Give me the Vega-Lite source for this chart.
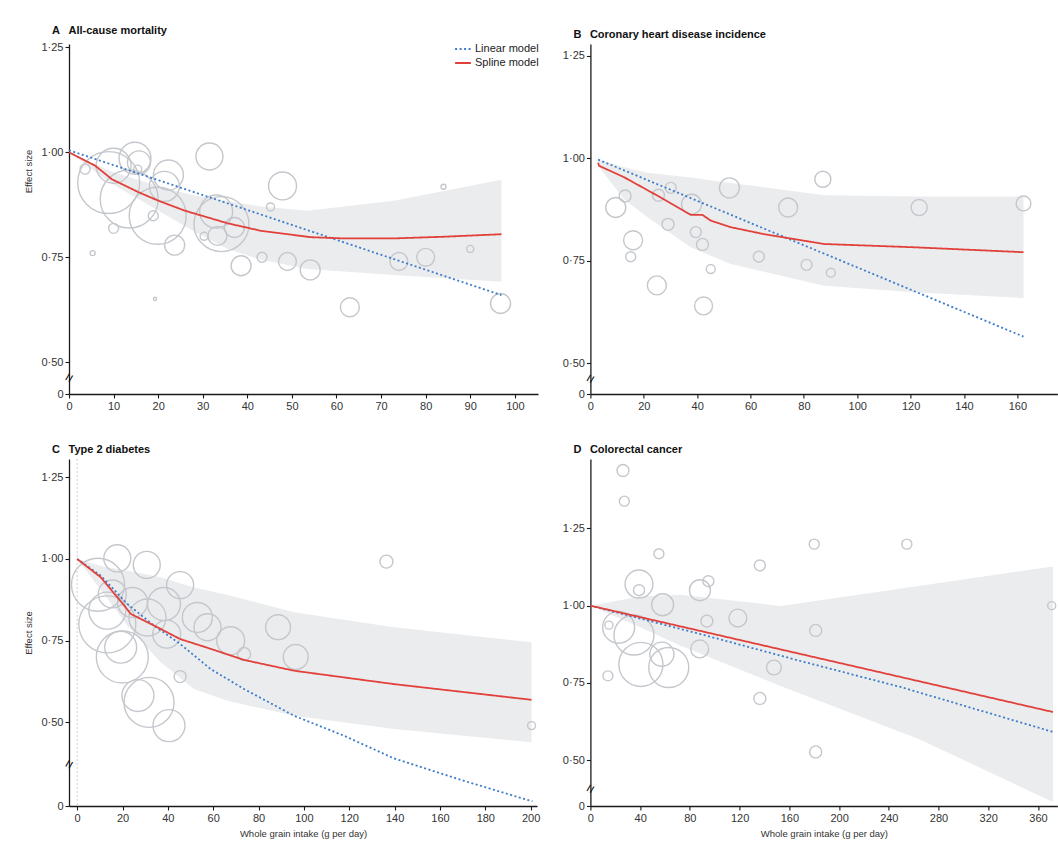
{
  "$schema": "https://vega.github.io/schema/vega-lite/v6.json",
  "background": "white",
  "padding": {"left": 23, "top": 25, "right": 0, "bottom": 5},
  "columns": 2,
  "spacing": {"row": 65, "column": 52.4},
  "bounds": "flush",
  "resolve": {
    "scale": {"color": "independent", "strokeDash": "independent"},
    "legend": {"color": "independent", "strokeDash": "independent"}
  },
  "datasets": {
    "bandA": [
      {"x": 0, "y": 1.0, "y2": 1.0},
      {"x": 9.6, "y": 0.954, "y2": 0.925},
      {"x": 20.8, "y": 0.917, "y2": 0.857},
      {"x": 28.2, "y": 0.897, "y2": 0.81},
      {"x": 35.6, "y": 0.884, "y2": 0.77},
      {"x": 43.1, "y": 0.871, "y2": 0.744},
      {"x": 53.5, "y": 0.861, "y2": 0.722},
      {"x": 72.8, "y": 0.885, "y2": 0.708},
      {"x": 97, "y": 0.935, "y2": 0.692}
    ],
    "pA": [
      {"x": 3.6, "y": 0.96, "w": 10}, {"x": 8.9, "y": 0.928, "w": 384}, {"x": 10, "y": 0.968, "w": 122},
      {"x": 14.8, "y": 0.986, "w": 102}, {"x": 15.7, "y": 0.976, "w": 53}, {"x": 15.4, "y": 0.96, "w": 6.4},
      {"x": 13.5, "y": 0.889, "w": 336}, {"x": 19.9, "y": 0.849, "w": 325}, {"x": 22.3, "y": 0.946, "w": 90},
      {"x": 21.4, "y": 0.919, "w": 90}, {"x": 18.9, "y": 0.849, "w": 10}, {"x": 10, "y": 0.819, "w": 10},
      {"x": 5.3, "y": 0.76, "w": 2.5}, {"x": 23.7, "y": 0.779, "w": 40}, {"x": 19.3, "y": 0.651, "w": 1},
      {"x": 34.2, "y": 0.829, "w": 302}, {"x": 33, "y": 0.859, "w": 109}, {"x": 37.1, "y": 0.821, "w": 40},
      {"x": 33.3, "y": 0.801, "w": 36}, {"x": 30.3, "y": 0.8, "w": 6.4}, {"x": 31.5, "y": 0.99, "w": 73},
      {"x": 47.9, "y": 0.92, "w": 78}, {"x": 45.2, "y": 0.87, "w": 6.4}, {"x": 38.6, "y": 0.73, "w": 40},
      {"x": 43.3, "y": 0.75, "w": 10}, {"x": 49, "y": 0.74, "w": 32}, {"x": 54.1, "y": 0.72, "w": 40},
      {"x": 63, "y": 0.631, "w": 36}, {"x": 74, "y": 0.74, "w": 32}, {"x": 80, "y": 0.75, "w": 32},
      {"x": 84, "y": 0.918, "w": 2.5}, {"x": 90, "y": 0.77, "w": 4.9}, {"x": 96.8, "y": 0.64, "w": 40}
    ],
    "lA": [
      {"x": 0, "y": 1.005, "model": "Linear model"}, {"x": 97, "y": 0.66, "model": "Linear model"},
      {"x": 0, "y": 1.0, "model": "Spline model"}, {"x": 5.9, "y": 0.968, "model": "Spline model"},
      {"x": 9.6, "y": 0.936, "model": "Spline model"}, {"x": 15.6, "y": 0.905, "model": "Spline model"},
      {"x": 20, "y": 0.885, "model": "Spline model"}, {"x": 26, "y": 0.861, "model": "Spline model"},
      {"x": 35.6, "y": 0.831, "model": "Spline model"}, {"x": 43.1, "y": 0.813, "model": "Spline model"},
      {"x": 54.2, "y": 0.798, "model": "Spline model"}, {"x": 61.7, "y": 0.795, "model": "Spline model"},
      {"x": 72.8, "y": 0.795, "model": "Spline model"}, {"x": 84, "y": 0.799, "model": "Spline model"},
      {"x": 97, "y": 0.805, "model": "Spline model"}
    ],
    "bandB": [
      {"x": 2.9, "y": 0.997, "y2": 0.982},
      {"x": 12.6, "y": 0.978, "y2": 0.9},
      {"x": 21.4, "y": 0.965, "y2": 0.856},
      {"x": 37.6, "y": 0.953, "y2": 0.783},
      {"x": 52.6, "y": 0.94, "y2": 0.742},
      {"x": 87.6, "y": 0.91, "y2": 0.689},
      {"x": 121.3, "y": 0.907, "y2": 0.673},
      {"x": 162.3, "y": 0.907, "y2": 0.659}
    ],
    "pB": [
      {"x": 9.5, "y": 0.88, "w": 40}, {"x": 13, "y": 0.908, "w": 14.4}, {"x": 16, "y": 0.8, "w": 36},
      {"x": 15.1, "y": 0.76, "w": 10}, {"x": 24.9, "y": 0.69, "w": 36}, {"x": 25.5, "y": 0.91, "w": 14.4},
      {"x": 30.1, "y": 0.928, "w": 12}, {"x": 29.1, "y": 0.839, "w": 14.4}, {"x": 37.9, "y": 0.888, "w": 40},
      {"x": 39.5, "y": 0.82, "w": 12}, {"x": 42, "y": 0.79, "w": 14.4}, {"x": 45.1, "y": 0.73, "w": 8},
      {"x": 42.4, "y": 0.64, "w": 32}, {"x": 52.1, "y": 0.928, "w": 40}, {"x": 74.1, "y": 0.88, "w": 36},
      {"x": 63.1, "y": 0.76, "w": 12}, {"x": 81, "y": 0.74, "w": 12}, {"x": 90.1, "y": 0.721, "w": 8},
      {"x": 87.1, "y": 0.949, "w": 26}, {"x": 123.2, "y": 0.88, "w": 26}, {"x": 162.3, "y": 0.89, "w": 22}
    ],
    "lB": [
      {"x": 2.9, "y": 0.997, "model": "Linear model"}, {"x": 162.3, "y": 0.565, "model": "Linear model"},
      {"x": 2.9, "y": 0.989, "model": "Spline model"}, {"x": 3.2, "y": 0.982, "model": "Spline model"},
      {"x": 12.6, "y": 0.954, "model": "Spline model"}, {"x": 25.1, "y": 0.909, "model": "Spline model"},
      {"x": 37.6, "y": 0.862, "model": "Spline model"}, {"x": 42, "y": 0.862, "model": "Spline model"},
      {"x": 45.1, "y": 0.848, "model": "Spline model"}, {"x": 52.6, "y": 0.832, "model": "Spline model"},
      {"x": 65.1, "y": 0.815, "model": "Spline model"}, {"x": 87.6, "y": 0.791, "model": "Spline model"},
      {"x": 121.3, "y": 0.783, "model": "Spline model"}, {"x": 162.3, "y": 0.771, "model": "Spline model"}
    ],
    "bandC": [
      {"x": 0, "y": 1.0, "y2": 1.0},
      {"x": 11, "y": 0.978, "y2": 0.9},
      {"x": 22.2, "y": 0.964, "y2": 0.796},
      {"x": 36.8, "y": 0.944, "y2": 0.684},
      {"x": 51.5, "y": 0.913, "y2": 0.602},
      {"x": 66.3, "y": 0.89, "y2": 0.566},
      {"x": 95.7, "y": 0.837, "y2": 0.52},
      {"x": 139.8, "y": 0.791, "y2": 0.48},
      {"x": 200.4, "y": 0.745, "y2": 0.439}
    ],
    "pC": [
      {"x": 9.2, "y": 0.921, "w": 281}, {"x": 17.7, "y": 1.002, "w": 73}, {"x": 30.7, "y": 0.982, "w": 73},
      {"x": 15.5, "y": 0.893, "w": 78}, {"x": 13.3, "y": 0.842, "w": 137}, {"x": 13.3, "y": 0.8, "w": 325},
      {"x": 24.4, "y": 0.867, "w": 90}, {"x": 31, "y": 0.821, "w": 137}, {"x": 38.3, "y": 0.862, "w": 109},
      {"x": 45.4, "y": 0.92, "w": 73}, {"x": 39.5, "y": 0.77, "w": 78}, {"x": 19.2, "y": 0.73, "w": 102},
      {"x": 19.9, "y": 0.7, "w": 270}, {"x": 26.8, "y": 0.582, "w": 102}, {"x": 31.7, "y": 0.561, "w": 250},
      {"x": 40.5, "y": 0.49, "w": 102}, {"x": 45.4, "y": 0.64, "w": 14.4}, {"x": 53, "y": 0.821, "w": 90},
      {"x": 57.5, "y": 0.791, "w": 73}, {"x": 67.7, "y": 0.75, "w": 78}, {"x": 73.6, "y": 0.709, "w": 17},
      {"x": 88.6, "y": 0.791, "w": 62}, {"x": 96.4, "y": 0.7, "w": 62}, {"x": 136.4, "y": 0.992, "w": 17},
      {"x": 200.4, "y": 0.49, "w": 6.4}
    ],
    "lC": [
      {"x": 0, "y": 1.0, "model": "Linear model"}, {"x": 10.4, "y": 0.949, "model": "Linear model"},
      {"x": 22.2, "y": 0.862, "model": "Linear model"}, {"x": 33.9, "y": 0.796, "model": "Linear model"},
      {"x": 45.4, "y": 0.74, "model": "Linear model"}, {"x": 58.9, "y": 0.663, "model": "Linear model"},
      {"x": 73.6, "y": 0.602, "model": "Linear model"}, {"x": 95.7, "y": 0.52, "model": "Linear model"},
      {"x": 117.7, "y": 0.459, "model": "Linear model"}, {"x": 139.6, "y": 0.39, "model": "Linear model"},
      {"x": 171.1, "y": 0.32, "model": "Linear model"}, {"x": 200.8, "y": 0.258, "model": "Linear model"},
      {"x": 0, "y": 1.0, "model": "Spline model"}, {"x": 10.4, "y": 0.944, "model": "Spline model"},
      {"x": 21.4, "y": 0.852, "model": "Spline model"}, {"x": 23.6, "y": 0.832, "model": "Spline model"},
      {"x": 35.4, "y": 0.791, "model": "Spline model"}, {"x": 45.4, "y": 0.755, "model": "Spline model"},
      {"x": 58.9, "y": 0.725, "model": "Spline model"}, {"x": 73.6, "y": 0.691, "model": "Spline model"},
      {"x": 95.7, "y": 0.658, "model": "Spline model"}, {"x": 139.8, "y": 0.617, "model": "Spline model"},
      {"x": 200.4, "y": 0.569, "model": "Spline model"}
    ],
    "bandD": [
      {"x": 0, "y": 1.0, "y2": 1.0},
      {"x": 40, "y": 1.03, "y2": 0.93},
      {"x": 72.6, "y": 1.035, "y2": 0.87},
      {"x": 153, "y": 0.999, "y2": 0.74},
      {"x": 264, "y": 1.064, "y2": 0.569},
      {"x": 372, "y": 1.127, "y2": 0.365}
    ],
    "pD": [
      {"x": 26.2, "y": 1.437, "w": 14.4}, {"x": 27.3, "y": 1.338, "w": 10}, {"x": 55.1, "y": 1.168, "w": 10},
      {"x": 39.1, "y": 1.07, "w": 78}, {"x": 39.1, "y": 1.05, "w": 12}, {"x": 58.1, "y": 1.003, "w": 48},
      {"x": 88.1, "y": 1.05, "w": 44}, {"x": 94.9, "y": 1.079, "w": 12}, {"x": 136.3, "y": 1.13, "w": 12},
      {"x": 180, "y": 1.199, "w": 10}, {"x": 254.5, "y": 1.199, "w": 10}, {"x": 371, "y": 1.0, "w": 6.4},
      {"x": 14.9, "y": 0.937, "w": 6.4}, {"x": 14.1, "y": 0.773, "w": 10}, {"x": 22.7, "y": 0.93, "w": 102},
      {"x": 35, "y": 0.905, "w": 160}, {"x": 40.6, "y": 0.81, "w": 194}, {"x": 63, "y": 0.8, "w": 160},
      {"x": 57.5, "y": 0.843, "w": 58}, {"x": 87.9, "y": 0.86, "w": 32}, {"x": 118.6, "y": 0.96, "w": 32},
      {"x": 93.7, "y": 0.95, "w": 14.4}, {"x": 136.3, "y": 0.7, "w": 14.4}, {"x": 147.6, "y": 0.8, "w": 22},
      {"x": 181.2, "y": 0.92, "w": 14.4}, {"x": 181.2, "y": 0.527, "w": 14.4}
    ],
    "lD": [
      {"x": 0, "y": 1.0, "model": "Linear model"}, {"x": 88.6, "y": 0.908, "model": "Linear model"},
      {"x": 169, "y": 0.821, "model": "Linear model"}, {"x": 249.4, "y": 0.737, "model": "Linear model"},
      {"x": 372.5, "y": 0.591, "model": "Linear model"},
      {"x": 0, "y": 1.0, "model": "Spline model"}, {"x": 372, "y": 0.656, "model": "Spline model"}
    ]
  },
  "concat": [
    {
      "width": 469, "height": 350,
      "title": {"text": "A\u00a0\u2002All-cause mortality"},
      "layer": [
        {"data": {"name": "bandA"}, "mark": {"type": "area", "color": "#ebecee", "opacity": 1},
         "encoding": {
           "x": {"field": "x", "type": "quantitative", "scale": {"domain": [0, 105.2], "nice": false, "zero": false}, "axis": {"values": [0,10,20,30,40,50,60,70,80,90,100], "title": null}},
           "y": {"field": "y", "type": "quantitative", "scale": {"domain": [0.4245, 1.258], "nice": false, "zero": false}, "axis": {"values": [0.4245, 0.5, 0.75, 1, 1.25], "labelExpr": "datum.value < 0.45 ? '0' : replace(format(datum.value, '.2f'), '.', '·')", "title": "Effect size", "titleX": -36, "titleY": 127}},
           "y2": {"field": "y2"}}},
        {"data": {"name": "pA"}, "mark": {"type": "point", "shape": "circle", "filled": false, "color": "#c4c7cc", "strokeWidth": 1.4, "opacity": 1},
         "encoding": {
           "x": {"field": "x", "type": "quantitative"},
           "y": {"field": "y", "type": "quantitative"},
           "size": {"field": "w", "type": "quantitative", "scale": {"domain": [0, 400], "range": [0, 4000]}, "legend": null}}},
        {"data": {"name": "lA"}, "mark": {"type": "line", "strokeWidth": 1.8},
         "encoding": {
           "x": {"field": "x", "type": "quantitative"},
           "y": {"field": "y", "type": "quantitative"},
           "color": {"field": "model", "type": "nominal", "scale": {"domain": ["Linear model", "Spline model"], "range": ["#3d7cc9", "#e2413b"]},
             "legend": {"title": null, "orient": "none", "legendX": 385, "legendY": -4, "symbolType": "stroke", "symbolSize": 250, "symbolStrokeWidth": 1.8, "labelFontSize": 11, "labelColor": "#222", "rowPadding": 0, "labelOffset": 3}},
           "strokeDash": {"field": "model", "type": "nominal", "scale": {"domain": ["Linear model", "Spline model"], "range": [[2, 2.5], [1, 0]]},
             "legend": {"title": null, "orient": "none", "legendX": 385, "legendY": -4, "symbolType": "stroke", "symbolSize": 250, "symbolStrokeWidth": 1.8, "labelFontSize": 11, "labelColor": "#222", "rowPadding": 0, "labelOffset": 3}}}},
        {"data": {"values": [{}]}, "mark": {"type": "text", "text": "=", "angle": -60, "fontSize": 15, "color": "#111"},
         "encoding": {"x": {"datum": 0, "type": "quantitative"}, "y": {"datum": 0.463, "type": "quantitative"}}}
      ]
    },
    {
      "width": 467, "height": 350,
      "title": {"text": "B\u00a0\u2002Coronary heart disease incidence"},
      "layer": [
        {"data": {"name": "bandB"}, "mark": {"type": "area", "color": "#ebecee", "opacity": 1},
         "encoding": {
           "x": {"field": "x", "type": "quantitative", "scale": {"domain": [0, 175], "nice": false, "zero": false}, "axis": {"values": [0,20,40,60,80,100,120,140,160], "title": null}},
           "y": {"field": "y", "type": "quantitative", "scale": {"domain": [0.425, 1.279], "nice": false, "zero": false}, "axis": {"values": [0.425, 0.5, 0.75, 1, 1.25], "labelExpr": "datum.value < 0.45 ? '0' : replace(format(datum.value, '.2f'), '.', '·')", "title": null}},
           "y2": {"field": "y2"}}},
        {"data": {"name": "pB"}, "mark": {"type": "point", "shape": "circle", "filled": false, "color": "#c4c7cc", "strokeWidth": 1.4, "opacity": 1},
         "encoding": {
           "x": {"field": "x", "type": "quantitative"},
           "y": {"field": "y", "type": "quantitative"},
           "size": {"field": "w", "type": "quantitative", "scale": {"domain": [0, 400], "range": [0, 4000]}, "legend": null}}},
        {"data": {"name": "lB"}, "mark": {"type": "line", "strokeWidth": 1.8},
         "encoding": {
           "x": {"field": "x", "type": "quantitative"},
           "y": {"field": "y", "type": "quantitative"},
           "color": {"field": "model", "type": "nominal", "scale": {"domain": ["Linear model", "Spline model"], "range": ["#3d7cc9", "#e2413b"]}, "legend": null},
           "strokeDash": {"field": "model", "type": "nominal", "scale": {"domain": ["Linear model", "Spline model"], "range": [[2, 2.5], [1, 0]]}, "legend": null}}},
        {"data": {"values": [{}]}, "mark": {"type": "text", "text": "=", "angle": -60, "fontSize": 15, "color": "#111"},
         "encoding": {"x": {"datum": 0, "type": "quantitative"}, "y": {"datum": 0.462, "type": "quantitative"}}}
      ]
    },
    {
      "width": 468, "height": 347,
      "title": {"text": "C\u00a0\u2002Type 2 diabetes"},
      "layer": [
        {"data": {"name": "bandC"}, "mark": {"type": "area", "color": "#ebecee", "opacity": 1},
         "encoding": {
           "x": {"field": "x", "type": "quantitative", "scale": {"domain": [-3.6, 202.8], "nice": false, "zero": false}, "axis": {"values": [0,20,40,60,80,100,120,140,160,180,200], "title": "Whole grain intake (g per day)"}},
           "y": {"field": "y", "type": "quantitative", "scale": {"domain": [0.244, 1.306], "nice": false, "zero": false}, "axis": {"values": [0.244, 0.5, 0.75, 1, 1.25], "labelExpr": "datum.value < 0.45 ? '0' : replace(format(datum.value, '.2f'), '.', '·')", "title": "Effect size", "titleX": -36}},
           "y2": {"field": "y2"}}},
        {"data": {"values": [{}]}, "mark": {"type": "rule", "color": "#cfd1d5", "strokeDash": [2, 2], "strokeWidth": 1},
         "encoding": {"x": {"datum": 0, "type": "quantitative"}}},
        {"data": {"name": "pC"}, "mark": {"type": "point", "shape": "circle", "filled": false, "color": "#c4c7cc", "strokeWidth": 1.4, "opacity": 1},
         "encoding": {
           "x": {"field": "x", "type": "quantitative"},
           "y": {"field": "y", "type": "quantitative"},
           "size": {"field": "w", "type": "quantitative", "scale": {"domain": [0, 400], "range": [0, 4000]}, "legend": null}}},
        {"data": {"name": "lC"}, "mark": {"type": "line", "strokeWidth": 1.8},
         "encoding": {
           "x": {"field": "x", "type": "quantitative"},
           "y": {"field": "y", "type": "quantitative"},
           "color": {"field": "model", "type": "nominal", "scale": {"domain": ["Linear model", "Spline model"], "range": ["#3d7cc9", "#e2413b"]}, "legend": null},
           "strokeDash": {"field": "model", "type": "nominal", "scale": {"domain": ["Linear model", "Spline model"], "range": [[2, 2.5], [1, 0]]}, "legend": null}}},
        {"data": {"values": [{}]}, "mark": {"type": "text", "text": "=", "angle": -60, "fontSize": 15, "color": "#111"},
         "encoding": {"x": {"datum": -3.6, "type": "quantitative"}, "y": {"datum": 0.372, "type": "quantitative"}}}
      ]
    },
    {
      "width": 467, "height": 347,
      "title": {"text": "D\u00a0\u2002Colorectal cancer"},
      "layer": [
        {"data": {"name": "bandD"}, "mark": {"type": "area", "color": "#ebecee", "opacity": 1},
         "encoding": {
           "x": {"field": "x", "type": "quantitative", "scale": {"domain": [0, 375.6], "nice": false, "zero": false}, "axis": {"values": [0,40,80,120,160,200,240,280,320,360], "title": "Whole grain intake (g per day)"}},
           "y": {"field": "y", "type": "quantitative", "scale": {"domain": [0.352, 1.4744], "nice": false, "zero": false}, "axis": {"values": [0.352, 0.5, 0.75, 1, 1.25], "labelExpr": "datum.value < 0.45 ? '0' : replace(format(datum.value, '.2f'), '.', '·')", "title": null}},
           "y2": {"field": "y2"}}},
        {"data": {"name": "pD"}, "mark": {"type": "point", "shape": "circle", "filled": false, "color": "#c4c7cc", "strokeWidth": 1.4, "opacity": 1},
         "encoding": {
           "x": {"field": "x", "type": "quantitative"},
           "y": {"field": "y", "type": "quantitative"},
           "size": {"field": "w", "type": "quantitative", "scale": {"domain": [0, 400], "range": [0, 4000]}, "legend": null}}},
        {"data": {"name": "lD"}, "mark": {"type": "line", "strokeWidth": 1.8},
         "encoding": {
           "x": {"field": "x", "type": "quantitative"},
           "y": {"field": "y", "type": "quantitative"},
           "color": {"field": "model", "type": "nominal", "scale": {"domain": ["Linear model", "Spline model"], "range": ["#3d7cc9", "#e2413b"]}, "legend": null},
           "strokeDash": {"field": "model", "type": "nominal", "scale": {"domain": ["Linear model", "Spline model"], "range": [[2, 2.5], [1, 0]]}, "legend": null}}},
        {"data": {"values": [{}]}, "mark": {"type": "text", "text": "=", "angle": -60, "fontSize": 15, "color": "#111"},
         "encoding": {"x": {"datum": 0, "type": "quantitative"}, "y": {"datum": 0.408, "type": "quantitative"}}}
      ]
    }
  ],
  "config": {
    "font": "Liberation Sans Narrow, Liberation Sans, sans-serif",
    "view": {"stroke": null},
    "axis": {
      "grid": false, "domainColor": "#1a1a1a", "domainWidth": 1.3, "tickColor": "#1a1a1a", "tickSize": 4, "tickWidth": 1.1,
      "labelFontSize": 11, "labelColor": "#333", "labelPadding": 2, "labelFlush": false,
      "titleFontSize": 9.5, "titleFontWeight": "normal", "titleColor": "#333", "titlePadding": 5
    },
    "title": {"fontSize": 11, "fontWeight": "bold", "anchor": "start", "frame": "group", "color": "#111", "offset": 4, "dx": -17}
  }
}
